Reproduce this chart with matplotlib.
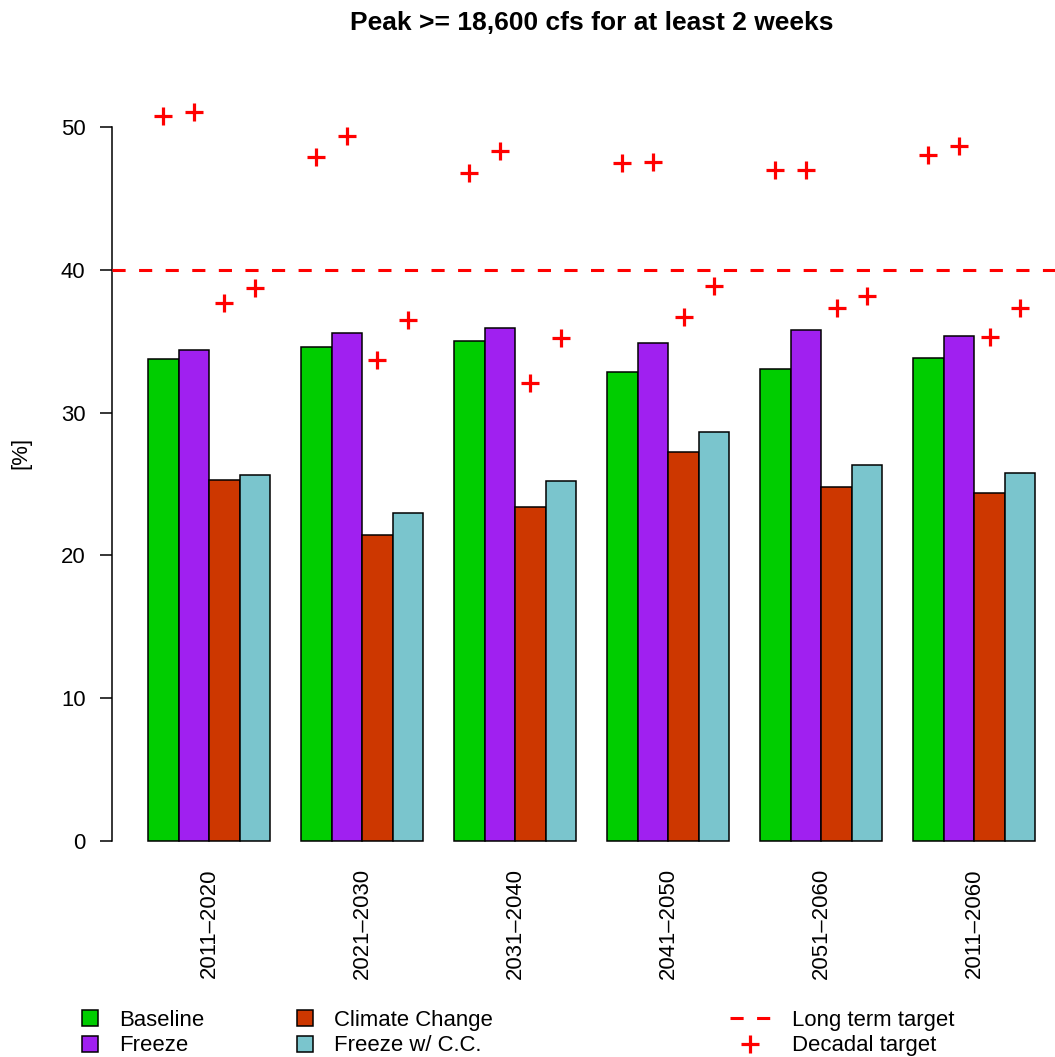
import matplotlib
matplotlib.use("Agg")
import matplotlib.pyplot as plt
from matplotlib.patches import Patch
from matplotlib.lines import Line2D
import numpy as np

plt.rcParams['font.family'] = ['Liberation Sans', 'DejaVu Sans']

# data
periods = ["2011\u20132020", "2021\u20132030", "2031\u20132040",
           "2041\u20132050", "2051\u20132060", "2011\u20132060"]
series = ["Baseline", "Freeze", "Climate Change", "Freeze w/ C.C."]
baseline = [33.75, 34.6, 35.0, 32.85, 33.05, 33.85]
freeze = [34.4, 35.6, 35.9, 34.9, 35.8, 35.35]
climate = [25.3, 21.4, 23.4, 27.25, 24.8, 24.4]
freeze_cc = [25.6, 22.95, 25.2, 28.65, 26.3, 25.75]
# decadal targets, one per bar
dec_baseline = [50.8, 47.9, 46.8, 47.5, 47.0, 48.05]
dec_freeze = [51.05, 49.4, 48.35, 47.55, 47.0, 48.7]
dec_climate = [37.7, 33.7, 32.05, 36.7, 37.35, 35.3]
dec_freeze_cc = [38.75, 36.5, 35.25, 38.9, 38.2, 37.3]
long_term = 40

colors = ["#00CD00", "#A020F0", "#CD3700", "#7AC5CD"]
fs = 15.9

fig = plt.figure(figsize=(10.55, 10.57), dpi=100)
ax = fig.add_axes([0.1066, 0.1882, 0.9085, 0.7659])

values = [baseline, freeze, climate, freeze_cc]
targets = [dec_baseline, dec_freeze, dec_climate, dec_freeze_cc]
groups = np.arange(len(periods))
for i in range(4):
    left = 1 + groups * 5 + i
    ax.bar(left, values[i], width=1, align='edge', color=colors[i],
           edgecolor='black', linewidth=1.1, zorder=2)
    ax.plot(left + 0.5, targets[i], linestyle='none', marker='+',
            markersize=12.5, markeredgewidth=2.3, color='red',
            clip_on=False, zorder=3)

ax.axhline(long_term, color='red', linewidth=2.2,
           linestyle=(0, (4.3, 4.4)), zorder=3)

ax.set_xlim(-0.16, 31.16)
ax.set_ylim(-1.2, 55.5)

for s in ['top', 'right', 'bottom']:
    ax.spines[s].set_visible(False)
ax.spines['left'].set_bounds(0, 50)
ax.spines['left'].set_linewidth(1.1)

ax.set_yticks([0, 10, 20, 30, 40, 50])
ax.tick_params(axis='y', length=8.6, width=1.1, pad=10.8, labelsize=fs)
ax.set_xticks(1 + groups * 5 + 2)
ax.set_xticklabels(periods, rotation=90, va='top', ha='center')
ax.tick_params(axis='x', length=0, pad=7.2, labelsize=fs)

ax.set_ylabel("[%]", fontsize=fs, labelpad=21)
ax.set_title("Peak >= 18,600 cfs for at least 2 weeks",
             fontsize=19, fontweight='bold', pad=13)

bar_handles = [Patch(facecolor=c, edgecolor='black', linewidth=1.1) for c in colors]
leg1 = fig.legend(bar_handles, series, ncol=2, loc='upper left',
                  bbox_to_anchor=(82 / 1055, 1 - 1010 / 1057),
                  frameon=False, fontsize=fs, borderpad=0, borderaxespad=0,
                  handlelength=0.73, handleheight=0.73, handletextpad=0.95,
                  columnspacing=4.2, labelspacing=0.2)

line_handles = [Line2D([], [], color='red', linewidth=2.2, linestyle=(0, (4.3, 4.4))),
                Line2D([], [], color='red', linestyle='none', marker='+',
                       markersize=12.5, markeredgewidth=2.3)]
leg2 = fig.legend(line_handles, ["Long term target", "Decadal target"],
                  loc='upper left', bbox_to_anchor=(730 / 1055, 1 - 1010 / 1057),
                  frameon=False, fontsize=fs, borderpad=0, borderaxespad=0,
                  handlelength=1.82, handletextpad=1.0, labelspacing=0.2)

fig.savefig("out.png", dpi=100)
